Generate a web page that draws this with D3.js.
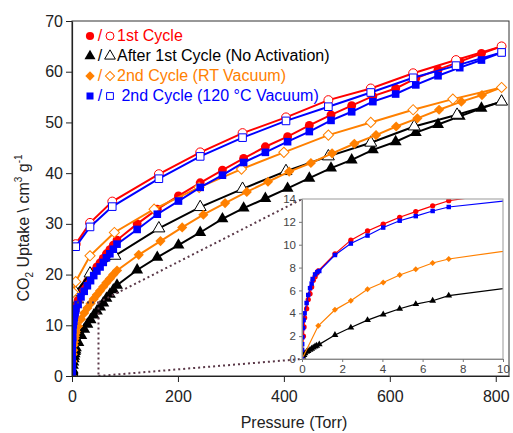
<!DOCTYPE html>
<html>
<head>
<script type="text/javascript" src="https://cdn.jsdelivr.net/npm/d3@7/dist/d3.min.js"></script>
<style>
body { margin: 0; background: white; }
text { font-family: Arial, "Liberation Sans", sans-serif; }
</style>
</head>
<body>
<script>

var width = 513,
    height = 433;

// pressure (Torr), uptake (cm3/g) -- adsorption (filled) and desorption (open)
var cycle1Ads = [[0,0],[0.07,2.0],[0.1,2.8],[0.13,3.6],[0.23,4.4],[0.31,5.2],[0.4,5.7],[0.48,6.3],
                 [0.56,6.9],[0.65,7.2],[0.73,7.5],[0.81,7.7],[1.64,9.2],[2.43,10.4],[3.26,11.2],
                 [4.04,11.8],[4.86,12.4],[5.66,12.9],[6.5,13.4],[7.3,13.85],[11.5,14.9],[17,16.4],
                 [23,17.5],[29,18.6],[35,19.6],[41,20.6],[47,21.5],[53,22.3],[59,23.2],[65,24.1],
                 [71.5,24.9],[78,25.8],[85,26.8],[123,30.0],[161,32.9],[201,35.5],[242,38.1],
                 [284,40.6],[324,42.9],[365,45.2],[407,47.2],[448,49.4],[489,51.5],[528,53.3],
                 [568,55.2],[611,56.7],[649,58.7],[691,60.4],[732,62.0],[773,63.6],[811,65.0]];
var cycle1Des = [[811,65.0],[725,62.3],[644,59.7],[564,56.7],[484,54.4],[404,51.0],[322,47.9],
                 [242,44.1],[164,39.8],[76,34.4],[34,30.2],[7,26.0]];

var after1Ads = [[0,0],[0.05,0.2],[0.1,0.35],[0.15,0.5],[0.23,0.64],[0.3,0.7],[0.4,0.8],[0.48,0.9],
                 [0.56,1.0],[0.65,1.1],[0.73,1.16],[0.86,1.28],[1.64,2.1],[2.43,2.75],[3.26,3.4],
                 [4.04,3.9],[4.86,4.4],[5.66,4.8],[6.5,5.1],[7.3,5.55],[12,6.6],[17.5,8.0],[23,9.2],
                 [29,10.2],[35,11.1],[41,12.0],[47,12.8],[53,13.6],[59,14.4],[65,15.3],[71.5,16.1],
                 [78,17.0],[85,17.9],[123,20.9],[161,23.4],[201,25.8],[242,28.3],[284,31.0],
                 [324,33.1],[365,35.0],[407,37.0],[448,39.0],[489,41.0],[528,42.6],[568,44.6],
                 [611,46.2],[649,48.0],[691,49.6],[732,51.2],[773,52.8],[811,54.1]];
var after1Des = [[811,54.1],[727,51.5],[646,49.2],[564,46.0],[484,43.3],[404,40.4],[322,36.9],
                 [242,33.3],[164,29.1],[81,23.7],[34,20.2],[7,16.5]];

var rtAds = [[0,0],[0.81,2.9],[1.64,4.3],[2.43,5.1],[3.26,6.1],[4.04,6.7],[4.86,7.35],[5.66,7.85],
             [6.5,8.4],[7.3,8.75],[11.5,9.8],[17,11.2],[23,12.4],[29,13.4],[35,14.3],[41,15.2],
             [47,16.0],[53,16.8],[59,17.6],[65,18.4],[71.5,19.2],[78,20.0],[85,20.8],[126,23.9],
             [167,26.6],[208,29.3],[248,31.8],[289,34.1],[330,36.3],[370,38.3],[410,40.3],
             [451,42.0],[491,43.9],[533,45.8],[574,47.5],[612,49.2],[652,50.8],[693,52.5],
             [735,54.1],[774,55.4],[811,56.9]];
var rtDes = [[811,56.9],[719,54.6],[644,52.5],[564,50.0],[484,47.5],[400,44.1],[320,40.8],
             [240,37.2],[155,32.9],[80,28.3],[34,23.7],[7,18.6],[2,16.5]];

var hotAds = [[0,0],[0.005,0.8],[0.01,1.3],[0.02,1.9],[0.05,2.7],[0.08,3.4],[0.13,4.0],[0.23,4.9],
              [0.31,5.6],[0.4,6.2],[0.48,6.6],[0.53,7.0],[0.65,7.4],[0.76,7.6],[0.86,7.7],
              [1.64,9.1],[2.43,10.1],[3.26,10.8],[4.04,11.5],[4.86,12.1],[5.66,12.5],[6.5,12.95],
              [7.3,13.3],[11.5,14.1],[17,15.6],[23,16.7],[29,17.8],[35,18.8],[41,19.8],[47,20.7],
              [53,21.5],[59,22.4],[65,23.3],[71.5,24.1],[78,25.0],[85,26.0],[123,28.9],[161,31.9],
              [201,34.5],[242,37.2],[284,39.6],[324,42.1],[365,44.1],[407,46.2],[448,48.2],
              [489,50.4],[528,52.1],[568,54.1],[611,55.6],[649,57.4],[691,59.2],[732,60.8],
              [773,62.3],[811,63.8]];
var hotDes = [[811,63.8],[725,61.2],[644,58.8],[564,55.9],[484,53.1],[404,50.3],[322,47.0],
              [242,43.3],[164,38.9],[76,33.4],[34,29.4],[7,25.5]];

var seriesNames = ["1st Cycle", "After 1st Cycle (No Activation)", "2nd Cycle (RT Vacuum)", " 2nd Cycle (120 \u00B0C Vacuum)"];
var seriesColors = ["#ff0000", "#000000", "#ff8000", "#0000ff"];

var xTicks = [0, 200, 400, 600, 800];
var yTicks = [0, 10, 20, 30, 40, 50, 60, 70];
var insetXTicks = [0, 2, 4, 6, 8, 10];
var insetYTicks = [0, 2, 4, 6, 8, 10, 12, 14];

var series = [
  {ads: cycle1Ads, des: cycle1Des, sym: d3.symbolCircle, rot: false},
  {ads: after1Ads, des: after1Des, sym: d3.symbolTriangle, rot: false},
  {ads: rtAds, des: rtDes, sym: d3.symbolSquare, rot: true},
  {ads: hotAds, des: hotDes, sym: d3.symbolSquare, rot: false}
];
var symSize = [62, 62, 52, 58];

var x = d3.scaleLinear().domain([0, 825]).range([72, 509]);
var y = d3.scaleLinear().domain([0, 70]).range([376, 21]);

var ix = d3.scaleLinear().domain([0, 10]).range([302, 503]);
var iy = d3.scaleLinear().domain([0, 14]).range([359, 199]);

var svg = d3.select("body")
            .append("svg")
            .attr("width", width)
            .attr("height", height)
            .style("background", "white");

var defs = svg.append("defs");
defs.append("clipPath").attr("id", "mainClip")
    .append("rect").attr("x", 72).attr("y", 21).attr("width", 437).attr("height", 355);
defs.append("clipPath").attr("id", "insetClip")
    .append("rect").attr("x", ix(0)).attr("y", iy(14)).attr("width", ix(10) - ix(0)).attr("height", iy(0) - iy(14));

function drawSeries(g, xs, ys, pts, color, sym, size, filled, lw, rot) {
  g.append("path")
   .datum(pts)
   .attr("fill", "none")
   .attr("stroke", color)
   .attr("stroke-width", lw)
   .attr("d", d3.line().x(function (d) { return xs(d[0]); }).y(function (d) { return ys(d[1]); }));
  g.selectAll(null)
   .data(pts)
   .enter()
   .append("path")
   .attr("d", d3.symbol().type(sym).size(size))
   .attr("transform", function (d) {
     return "translate(" + xs(d[0]) + "," + ys(d[1]) + ")" + (rot ? " rotate(45)" : ""); })
   .attr("fill", filled ? color : "white")
   .attr("stroke", color)
   .attr("stroke-width", filled ? 0 : 1);
}

// main plot
var plot = svg.append("g").attr("clip-path", "url(#mainClip)");
series.forEach(function (s, i) {
  drawSeries(plot, x, y, s.ads, seriesColors[i], s.sym, symSize[i], true, 2, s.rot);
  drawSeries(plot, x, y, s.des, seriesColors[i], s.sym, symSize[i], false, 2, s.rot);
});

// zoom box dotted lines
var dotColor = "#5a3848";
var dots = [
  [[x(0), y(14.5)], [x(50), y(14.5)]],
  [[x(50), y(14.5)], [x(50), y(0)]],
  [[x(50), y(14.5)], [ix(0), iy(14)]],
  [[x(50), y(0)], [ix(0), iy(0)]]
];
svg.selectAll(".dot")
   .data(dots)
   .enter()
   .append("line")
   .attr("x1", function (d) { return d[0][0]; })
   .attr("y1", function (d) { return d[0][1]; })
   .attr("x2", function (d) { return d[1][0]; })
   .attr("y2", function (d) { return d[1][1]; })
   .attr("stroke", dotColor)
   .attr("stroke-width", 2)
   .attr("stroke-dasharray", "2,3");

// frame and axes
svg.append("rect")
   .attr("x", 72).attr("y", 21).attr("width", 437).attr("height", 355)
   .attr("fill", "none").attr("stroke", "#333").attr("stroke-width", 1);

var xAxis = svg.append("g")
               .attr("transform", "translate(0,376)")
               .call(d3.axisBottom(x).tickValues(xTicks).tickSize(6).tickSizeOuter(0).tickPadding(9));
var yAxis = svg.append("g")
               .attr("transform", "translate(72,0)")
               .call(d3.axisLeft(y).tickValues(yTicks).tickSize(6).tickSizeOuter(0).tickPadding(3));
[xAxis, yAxis].forEach(function (a) {
  a.selectAll("text").style("font-size", "16px").attr("fill", "#222");
  a.selectAll("line").attr("stroke", "#222");
  a.select(".domain").attr("stroke", "#222").attr("stroke-width", 1.2);
});

svg.append("text")
   .attr("x", 294).attr("y", 428)
   .attr("text-anchor", "middle")
   .style("font-size", "16px")
   .attr("fill", "#222")
   .text("Pressure (Torr)");

var yLabel = svg.append("text")
   .attr("transform", "translate(29,228) rotate(-90)")
   .attr("text-anchor", "middle")
   .style("font-size", "16px")
   .attr("fill", "#222");
yLabel.append("tspan").text("CO");
yLabel.append("tspan").attr("dy", 4).style("font-size", "10px").text("2");
yLabel.append("tspan").attr("dy", -4).text(" Uptake \\ cm");
yLabel.append("tspan").attr("dy", -7).style("font-size", "10px").text("3");
yLabel.append("tspan").attr("dy", 7).text(" g");
yLabel.append("tspan").attr("dy", -7).style("font-size", "10px").text("-1");

// legend
var legend = svg.append("g");
seriesNames.forEach(function (name, i) {
  var cy = 35 + i * 20;
  var s = series[i];
  var rot = s.rot ? " rotate(45)" : "";
  legend.append("path")
        .attr("d", d3.symbol().type(s.sym).size(symSize[i] * 0.85))
        .attr("transform", "translate(90," + (cy + 1) + ")" + rot)
        .attr("fill", seriesColors[i]);
  legend.append("text")
        .attr("x", 100).attr("y", cy + 6)
        .attr("text-anchor", "middle")
        .style("font-size", "16px")
        .attr("fill", seriesColors[i])
        .text("/");
  legend.append("path")
        .attr("d", d3.symbol().type(s.sym).size(symSize[i] * 0.8))
        .attr("transform", "translate(110," + (cy + 1) + ")" + rot)
        .attr("fill", "none")
        .attr("stroke", seriesColors[i])
        .attr("stroke-width", 1);
  legend.append("text")
        .attr("x", 117).attr("y", cy + 6)
        .style("font-size", "16px")
        .attr("fill", seriesColors[i])
        .attr("xml:space", "preserve")
        .style("white-space", "pre")
        .text(name);
});

// inset
var inset = svg.append("g");
inset.append("rect")
     .attr("x", ix(0)).attr("y", iy(14))
     .attr("width", ix(10) - ix(0)).attr("height", iy(0) - iy(14))
     .attr("fill", "white");
var insetPlot = inset.append("g").attr("clip-path", "url(#insetClip)");
var insetSize = [22, 20, 18, 20];
series.forEach(function (s, i) {
  var pts = s.ads.filter(function (d) { return d[0] <= 12; });
  drawSeries(insetPlot, ix, iy, pts, seriesColors[i], s.sym, insetSize[i], true, 1.2, s.rot);
});
inset.append("rect")
     .attr("x", ix(0)).attr("y", iy(14))
     .attr("width", ix(10) - ix(0)).attr("height", iy(0) - iy(14))
     .attr("fill", "none").attr("stroke", "#999").attr("stroke-width", 1);
var ixAxis = inset.append("g")
                  .attr("transform", "translate(0," + iy(0) + ")")
                  .call(d3.axisBottom(ix).tickValues(insetXTicks).tickSize(3).tickSizeOuter(0).tickPadding(3));
var iyAxis = inset.append("g")
                  .attr("transform", "translate(" + ix(0) + ",0)")
                  .call(d3.axisLeft(iy).tickValues(insetYTicks).tickSize(3).tickSizeOuter(0).tickPadding(3));
[ixAxis, iyAxis].forEach(function (a) {
  a.selectAll("text").style("font-size", "11.5px").attr("fill", "#444");
  a.selectAll("line").attr("stroke", "#777");
  a.select(".domain").attr("stroke", "#888");
});

</script>
</body>
</html>
